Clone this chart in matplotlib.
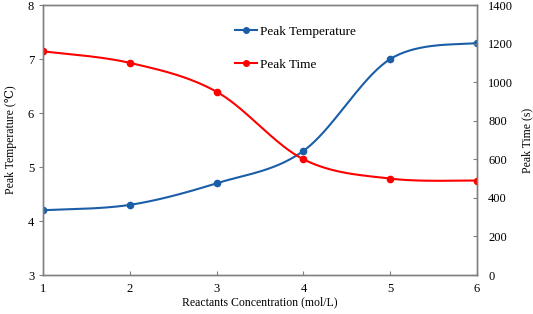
import numpy as np
import matplotlib.pyplot as plt

conc = [1, 2, 3, 4, 5, 6]
peak_temp = [4.2, 4.3, 4.7, 5.3, 7.0, 7.3]
peak_time = [1160, 1100, 950, 600, 500, 490]

plt.rcParams['font.family'] = ['Liberation Serif', 'DejaVu Serif']


def smooth(x, y, n=40):
    # Catmull-Rom style smoothing, similar to spreadsheet "smoothed line"
    x = np.asarray(x, float)
    y = np.asarray(y, float)
    px = np.concatenate([[x[0]], x, [x[-1]]])
    py = np.concatenate([[y[0]], y, [y[-1]]])
    xs, ys = [], []
    t = np.linspace(0, 1, n)
    for i in range(1, len(px) - 2):
        p0, p1, p2, p3 = (np.array([px[j], py[j]]) for j in range(i - 1, i + 3))
        c1 = p1 + (p2 - p0) / 6
        c2 = p2 - (p3 - p1) / 6
        pts = ((1 - t)**3)[:, None]*p1 + (3*(1 - t)**2*t)[:, None]*c1 \
            + (3*(1 - t)*t**2)[:, None]*c2 + (t**3)[:, None]*p2
        xs.extend(pts[:, 0])
        ys.extend(pts[:, 1])
    return xs, ys


blue = '#1a5ea8'
red = '#ff0000'

fig = plt.figure(figsize=(5.33, 3.14), dpi=100)
ax = fig.add_axes([0.081, 0.124, 0.814, 0.86])
ax2 = ax.twinx()

sx, sy = smooth(conc, peak_temp)
ax.plot(sx, sy, color=blue, lw=1.5)
ax.plot(conc, peak_temp, 'o', color=blue, ms=4.5)
l1, = ax.plot([], [], '-o', color=blue, lw=1.5, ms=4, label='Peak Temperature')

sx, sy = smooth(conc, peak_time)
ax2.plot(sx, sy, color=red, lw=1.5)
ax2.plot(conc, peak_time, 'o', color=red, ms=4.5)
l2, = ax2.plot([], [], '-o', color=red, lw=1.5, ms=4, label='Peak Time')

ax.set_xlim(1, 6)
ax.set_ylim(3, 8)
ax2.set_ylim(0, 1400)
ax2.set_yticks(range(0, 1401, 200))

for a in (ax, ax2):
    for s in a.spines.values():
        s.set_color('#808080')
        s.set_linewidth(1.0)
ax.tick_params(axis='x', direction='in', length=3, color='#808080', labelsize=9, pad=6)
ax.tick_params(axis='y', direction='out', length=3, color='#808080', labelsize=9)
ax2.tick_params(axis='y', direction='in', length=3, color='#808080', labelsize=9, pad=8)

ax.set_xlabel('Reactants Concentration (mol/L)', fontsize=8.5, labelpad=1)
ax.set_ylabel('Peak Temperature (℃)', fontsize=8.5, labelpad=8)
ax2.set_ylabel('Peak Time (s)', fontsize=8.5, labelpad=6)

ax2.legend(handles=[l1, l2], loc='upper left', bbox_to_anchor=(0.418, 0.957),
           bbox_transform=fig.transFigure, frameon=False, fontsize=9.5,
           handlelength=1.7, handletextpad=0.2, labelspacing=1.6)

fig.savefig('out.png', dpi=100)
